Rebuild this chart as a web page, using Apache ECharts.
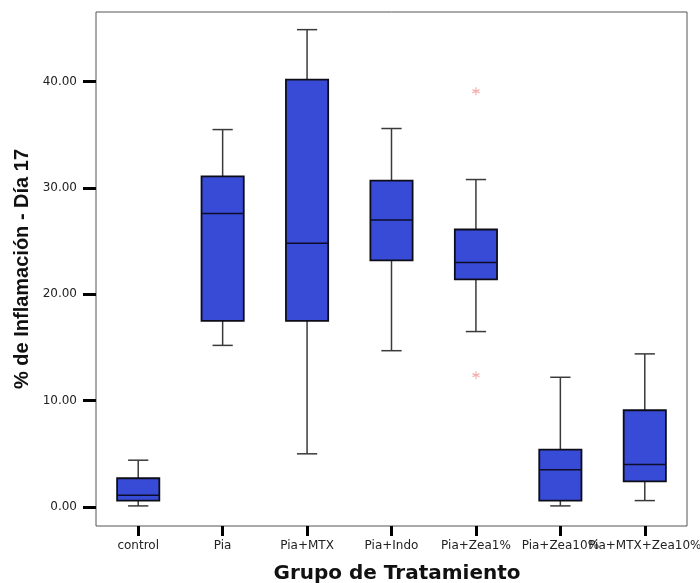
<!DOCTYPE html>
<html>
<head>
<meta charset="utf-8">
<script src="https://cdn.jsdelivr.net/npm/echarts@6/dist/echarts.min.js"></script>
<style>html,body{margin:0;padding:0;background:#fff}#c{width:700px;height:583px}</style>
</head>
<body>
<div id="c"></div>
<script>
// ---- Data ----
const categories = ['control', 'Pia', 'Pia+MTX', 'Pia+Indo', 'Pia+Zea1%', 'Pia+Zea10%', 'Pia+MTX+Zea10%'];
const minValues    = [0.1, 15.2,  5.0, 14.7, 16.5,  0.1,  0.6];
const q1Values     = [0.6, 17.5, 17.5, 23.2, 21.4,  0.6,  2.4];
const medianValues = [1.1, 27.6, 24.8, 27.0, 23.0,  3.5,  4.0];
const q3Values     = [2.7, 31.1, 40.2, 30.7, 26.1,  5.4,  9.1];
const maxValues    = [4.4, 35.5, 44.9, 35.6, 30.8, 12.2, 14.4];
const outlierCategory = ['Pia+Zea1%', 'Pia+Zea1%'];
const outlierValues   = [39.1, 12.4];
const yTickValues = [0, 10, 20, 30, 40];
const yAxisTitle = '% de Inflamación - Día 17';
const xAxisTitle = 'Grupo de Tratamiento';

const boxData = categories.map((c, i) => [i, minValues[i], q1Values[i], medianValues[i], q3Values[i], maxValues[i]]);
const outlierData = outlierCategory.map((c, i) => [categories.indexOf(c), outlierValues[i]]);

const chart = echarts.init(document.getElementById('c'), null, {renderer: 'canvas'});

function renderBox(params, api) {
  const x = api.value(0);
  const pMin = api.coord([x, api.value(1)]);
  const pQ1 = api.coord([x, api.value(2)]);
  const pMed = api.coord([x, api.value(3)]);
  const pQ3 = api.coord([x, api.value(4)]);
  const pMax = api.coord([x, api.value(5)]);
  const band = api.size([1, 0])[0];
  const bw = band * 0.5;
  const cw = band * 0.24;
  const cx = pMed[0];
  const wStyle = {stroke: '#3a3a3a', lineWidth: 1.5};
  return {
    type: 'group',
    children: [
      {type: 'line', shape: {x1: cx, y1: pQ3[1], x2: cx, y2: pMax[1]}, style: wStyle},
      {type: 'line', shape: {x1: cx, y1: pQ1[1], x2: cx, y2: pMin[1]}, style: wStyle},
      {type: 'line', shape: {x1: cx - cw / 2, y1: pMax[1], x2: cx + cw / 2, y2: pMax[1]}, style: wStyle},
      {type: 'line', shape: {x1: cx - cw / 2, y1: pMin[1], x2: cx + cw / 2, y2: pMin[1]}, style: wStyle},
      {type: 'rect', shape: {x: cx - bw / 2, y: pQ3[1], width: bw, height: pQ1[1] - pQ3[1]},
        style: {fill: '#384BD6', stroke: '#0d0d1a', lineWidth: 1.8}},
      {type: 'line', shape: {x1: cx - bw / 2, y1: pMed[1], x2: cx + bw / 2, y2: pMed[1]},
        style: {stroke: '#0d0d2a', lineWidth: 1.5}}
    ]
  };
}

const option = {
  animation: false,
  backgroundColor: '#fff',
  grid: {left: 96, right: 13, top: 12, bottom: 57, show: true, borderColor: '#555', borderWidth: 1,
    backgroundColor: 'transparent', containLabel: false, outerBoundsMode: 'none'},
  xAxis: {
    type: 'category',
    data: categories,
    boundaryGap: true,
    axisLine: {show: false, onZero: false},
    axisTick: {show: true, alignWithLabel: true, length: 10, lineStyle: {color: '#000', width: 3}},
    axisLabel: {interval: 0, margin: 14, color: '#222', fontFamily: 'DejaVu Sans', fontSize: 12, hideOverlap: false},
    splitLine: {show: false}
  },
  yAxis: {
    type: 'value',
    min: -1.79,
    max: 46.56,
    axisLine: {show: false, onZero: false},
    axisTick: {show: true, customValues: yTickValues, length: 13, lineStyle: {color: '#000', width: 3}},
    axisLabel: {customValues: yTickValues, margin: 19, color: '#222', fontFamily: 'DejaVu Sans', fontSize: 12,
      formatter: v => Number(v).toFixed(2)},
    splitLine: {show: false}
  },
  series: [
    {
      type: 'custom',
      renderItem: renderBox,
      data: boxData,
      encode: {x: 0, y: [1, 2, 3, 4, 5]},
      z: 2
    },
    {
      type: 'scatter',
      data: outlierData,
      symbol: 'path://M5,0L5,10M0,3L10,7M0,7L10,3',
      symbolSize: [7, 8],
      itemStyle: {color: 'none', borderColor: '#F29A9A', borderWidth: 1.2},
      z: 3
    }
  ],
  graphic: [
    {type: 'text', x: 22, y: 269, rotation: Math.PI / 2,
      style: {text: yAxisTitle, font: 'bold 20px "Liberation Sans", Arial, sans-serif', fill: '#111', textAlign: 'center', textVerticalAlign: 'middle'}},
    {type: 'text', x: 397, y: 574,
      style: {text: xAxisTitle, font: 'bold 20px "DejaVu Sans", sans-serif', fill: '#111', textAlign: 'center', textVerticalAlign: 'middle'}}
  ]
};
chart.setOption(option);
</script>
</body>
</html>
